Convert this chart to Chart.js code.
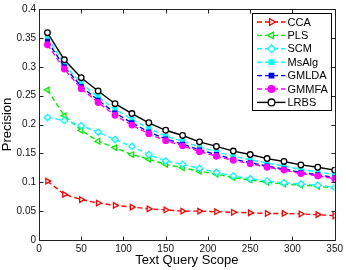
<!DOCTYPE html>
<html>
<head>
<meta charset="utf-8">
<script src="https://cdn.jsdelivr.net/npm/chart.js@4.4.1/dist/chart.umd.min.js"></script>
<style>
  html, body { margin: 0; padding: 0; background: #fff; }
  #wrap { width: 346px; height: 270px; }
</style>
</head>
<body>
<div id="wrap"><canvas id="chart"></canvas></div>
<script>
// Text query scope (x positions of the markers)
const scopes = [10, 30, 50, 70, 90, 110, 130, 150, 170, 190, 210, 230, 250, 270, 290, 310, 330, 350];

// Precision for each method
const cca   = [0.102, 0.079, 0.070, 0.064, 0.060, 0.057, 0.054, 0.052, 0.050, 0.050, 0.049, 0.048, 0.047, 0.046, 0.046, 0.045, 0.044, 0.042];
const pls   = [0.260, 0.215, 0.190, 0.171, 0.160, 0.148, 0.140, 0.131, 0.125, 0.119, 0.114, 0.108, 0.104, 0.100, 0.097, 0.095, 0.093, 0.090];
const scm   = [0.212, 0.207, 0.198, 0.187, 0.174, 0.162, 0.148, 0.137, 0.131, 0.124, 0.117, 0.111, 0.106, 0.102, 0.099, 0.097, 0.095, 0.091];
const msalg = [0.351, 0.304, 0.271, 0.248, 0.226, 0.209, 0.193, 0.180, 0.171, 0.161, 0.153, 0.145, 0.139, 0.133, 0.128, 0.122, 0.118, 0.113];
const gmlda = [0.344, 0.300, 0.266, 0.242, 0.220, 0.203, 0.187, 0.175, 0.166, 0.156, 0.148, 0.140, 0.134, 0.128, 0.123, 0.117, 0.113, 0.108];
const gmmfa = [0.338, 0.296, 0.262, 0.238, 0.216, 0.199, 0.184, 0.172, 0.163, 0.153, 0.145, 0.138, 0.132, 0.126, 0.121, 0.115, 0.111, 0.106];
const lrbs  = [0.359, 0.312, 0.281, 0.258, 0.236, 0.219, 0.203, 0.190, 0.181, 0.170, 0.162, 0.154, 0.148, 0.141, 0.136, 0.130, 0.126, 0.121];

const xTicks = [0, 50, 100, 150, 200, 250, 300, 350];
const yTicks = [0, 0.05, 0.1, 0.15, 0.2, 0.25, 0.3, 0.35, 0.4];

const FONT = "'Liberation Sans', Arial, sans-serif";

// one entry per line: name, values, colour, marker, rotation, filled, dashed
const series = [
    ["CCA",   cca,   "#ff0000", "triangle", 90,  false, true],
    ["PLS",   pls,   "#00ee00", "triangle", -90, false, true],
    ["SCM",   scm,   "#00ffff", "rectRot",  0,   false, true],
    ["MsAlg", msalg, "#00ffff", "rect",     0,   true,  true],
    ["GMLDA", gmlda, "#0000ff", "rect",     0,   true,  true],
    ["GMMFA", gmmfa, "#ff00ff", "circle",   0,   true,  true],
    ["LRBS",  lrbs,  "#000000", "circle",   0,   false, false],
];

function pointRadius(style) {
    if (style === "rect") return 2.6;
    if (style === "circle") return 2.8;
    return 3.2;
}

const datasets = series.map(([name, vals, color, style, rot, filled, dashed], i) => ({
    label: name,
    data: scopes.map((x, j) => ({ x: x, y: vals[j] })),
    borderColor: color,
    borderWidth: 1.4,
    borderDash: dashed ? [5, 3] : [],
    pointStyle: style,
    pointRotation: rot,
    pointRadius: pointRadius(style),
    pointBorderWidth: 1.3,
    pointBorderColor: color,
    pointBackgroundColor: filled ? color : "#ffffff",
    tension: 0,
    order: series.length - i,
}));

/**
 * MATLAB style box with inward ticks, plus the legend
 */
const boxPlugin = {
    id: "box",
    afterDraw(chart) {
        const ctx = chart.ctx;
        const ca = chart.chartArea;
        const xs = chart.scales.x;
        const ys = chart.scales.y;
        ctx.save();
        ctx.strokeStyle = "#222";
        ctx.lineWidth = 1;
        ctx.setLineDash([]);
        const L = Math.round(ca.left) + 0.5, R = Math.round(ca.right) + 0.5;
        const T = Math.round(ca.top) + 0.5, B = Math.round(ca.bottom) + 0.5;
        ctx.strokeRect(L, T, R - L, B - T);
        ctx.beginPath();
        xTicks.forEach(v => {
            const px = Math.round(xs.getPixelForValue(v)) + 0.5;
            ctx.moveTo(px, B); ctx.lineTo(px, B - 4);
            ctx.moveTo(px, T); ctx.lineTo(px, T + 4);
        });
        yTicks.forEach(v => {
            const py = Math.round(ys.getPixelForValue(v)) + 0.5;
            ctx.moveTo(L, py); ctx.lineTo(L + 4, py);
            ctx.moveTo(R, py); ctx.lineTo(R - 4, py);
        });
        ctx.stroke();

        // legend
        const lx = Math.round(ca.right) - 82.5, ly = Math.round(ca.top) + 4.5;
        const lw = 79, lh = 97;
        ctx.fillStyle = "#fff";
        ctx.fillRect(lx, ly, lw, lh);
        ctx.strokeStyle = "#000";
        ctx.strokeRect(lx, ly, lw, lh);
        ctx.font = "11px " + FONT;
        ctx.textBaseline = "middle";
        ctx.textAlign = "left";
        series.forEach(([name, vals, color, style, rot, filled, dashed], i) => {
            const cy = ly + 8.5 + i * 13.4;
            ctx.strokeStyle = color;
            ctx.lineWidth = 1.4;
            ctx.setLineDash(dashed ? [5, 3] : []);
            ctx.beginPath();
            ctx.moveTo(lx + 4.5, cy);
            ctx.lineTo(lx + 33, cy);
            ctx.stroke();
            ctx.setLineDash([]);
            ctx.lineWidth = 1.3;
            ctx.fillStyle = filled ? color : "#fff";
            Chart.helpers.drawPoint(ctx, {
                pointStyle: style,
                rotation: rot,
                radius: pointRadius(style) + 0.6,
                borderWidth: 1.3,
            }, lx + 19, cy);
            ctx.fillStyle = "#000";
            ctx.fillText(name, lx + 35, cy + 0.5);
        });
        ctx.restore();
    },
};

new Chart(document.getElementById("chart"), {
    type: "line",
    data: { datasets: datasets },
    options: {
        responsive: true,
        maintainAspectRatio: false,
        animation: false,
        devicePixelRatio: 1,
        layout: { padding: { left: 0, right: 10, top: 4, bottom: 0 } },
        plugins: { legend: { display: false }, tooltip: { enabled: false } },
        scales: {
            x: {
                type: "linear",
                min: 0,
                max: 350,
                afterBuildTicks: s => { s.ticks = xTicks.map(v => ({ value: v })); },
                afterFit: s => { s.height = 30; },
                grid: { drawOnChartArea: false, drawTicks: false },
                border: { display: false },
                ticks: { padding: 3, color: "#111", font: { family: FONT, size: 10 }, maxRotation: 0 },
                title: { display: true, text: "Text Query Scope", color: "#000", padding: { top: 0, bottom: 2 }, font: { family: FONT, size: 13 } },
            },
            y: {
                min: 0,
                max: 0.4,
                afterBuildTicks: s => { s.ticks = yTicks.map(v => ({ value: v })); },
                afterFit: s => { s.width = 39; },
                grid: { drawOnChartArea: false, drawTicks: false },
                border: { display: false },
                ticks: { padding: 3, color: "#111", font: { family: FONT, size: 10 }, callback: v => String(+v.toFixed(2)) },
                title: { display: true, text: "Precision", color: "#000", padding: { top: 0, bottom: 0 }, font: { family: FONT, size: 13 } },
            },
        },
    },
    plugins: [boxPlugin],
});
</script>
</body>
</html>
